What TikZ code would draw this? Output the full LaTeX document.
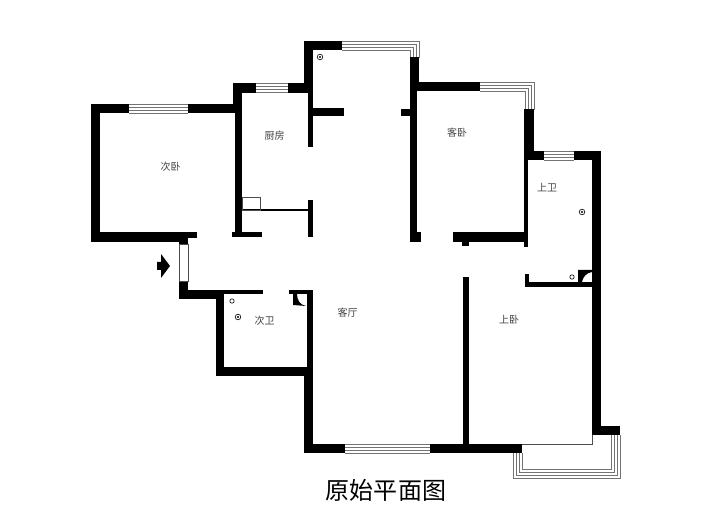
\documentclass[tikz,border=0pt]{standalone}
\usepackage{fontspec}
\newfontfamily\cjk{Noto Sans CJK SC}

\tikzset{
	wall/.style={fill=black},
	glass/.style={draw=black!55, line width=0.7pt},
	thinline/.style={draw=black!70, line width=0.7pt},
	fixture/.style={draw=black, line width=0.6pt, fill=white},
	roomlabel/.style={font=\cjk\fontsize{10}{10}\selectfont, text=black!75, inner sep=0pt},
}

\begin{document}
\begin{tikzpicture}[x=1pt, y=-1pt]
	\useasboundingbox (0,0) rectangle (716,521);

	% Straight windows
	\foreach \xa/\xb/\ya in {129/188/104, 256/288/83, 544/574/151, 345/430/444} {
		\foreach \d in {0,3,6,9} {
			\draw[glass] (\xa,\ya+\d) -- (\xb,\ya+\d);
		}
	}

	% Corner windows
	\foreach \d in {0,3,6,9} {
		\draw[glass] (342,41+\d) -- (419-\d,41+\d) -- (419-\d,58);
		\draw[glass] (480,82+\d) -- (534-\d,82+\d) -- (534-\d,110);
		\draw[glass] (513+\d,453) -- (513+\d,478-\d) -- (620-\d,478-\d) -- (620-\d,435);
	}

	% Walls
	\foreach \xa/\ya/\xb/\yb in {
		91/104/129/113, 188/104/242/113, 91/104/100/242, 91/232/197/238, 91/238/188/242,
		179/238/188/244, 179/281/188/299, 179/290/224/299, 216/290/263/294, 216/290/224/376,
		216/367/313/376, 304/367/313/453, 307/290/313/367, 289/290/313/294, 304/444/345/453,
		430/444/522/453, 463/277/469/444, 592/151/601/435, 592/426/620/435,
		304/41/342/50, 304/41/313/85, 308/85/313/147, 313/108/344/116,
		233/83/256/93, 288/83/313/93, 233/83/242/113, 235/93/242/237, 232/232/262/237,
		308/200/313/237, 410/57/419/82, 410/82/417/242, 410/232/421/242, 401/109/410/116,
		410/82/480/91, 524/109/534/151, 524/151/544/160, 574/151/601/160, 524/160/528/247,
		453/232/528/242, 462/242/469/246, 525/274/529/287, 525/282/592/287} {
		\fill[wall] (\xa,\ya) rectangle (\xb,\yb);
	}

	% Kitchen counter and thin edges
	\draw[thinline, draw=black, line width=1.2pt] (242,210) -- (308,210);
	\draw[thinline] (242,197) rectangle (260,210);
	\draw[thinline] (522,444) -- (592,444) -- (592,435);

	% Entrance door
	\draw[thinline] (179,244) rectangle (188,281);

	% Door swings in the two bathrooms
	\fill[wall] (293,294) -- (293,305) -- (306,306) .. controls (300,305) and (297,300) .. (297,294) -- cycle;
	\fill[wall] (578,270) -- (592,270) -- (592,272) .. controls (586,273) and (583,277) .. (582,282) -- (578,282) -- cycle;

	% Floor drains
	\foreach \px/\py in {232/301, 572/277} {
		\draw[fixture] (\px,\py) circle (2.2pt);
	}
	\foreach \px/\py in {238/317, 582/212, 320/57} {
		\draw[fixture] (\px,\py) circle (2.8pt);
		\fill (\px,\py) circle (1.2pt);
	}

	% Entrance arrow
	\fill[wall] (157,262) -- (161,262) -- (161,254) -- (170,266) -- (161,278) -- (161,270) -- (157,270) -- cycle;

	% Room names
	\node[roomlabel] (bedroomA) at (170.5,167) {次卧};
	\node[roomlabel] (kitchen) at (274.5,136) {厨房};
	\node[roomlabel] (bedroomB) at (457,133) {客卧};
	\node[roomlabel] (bathA) at (547,188) {上卫};
	\node[roomlabel] (living) at (347.5,313) {客厅};
	\node[roomlabel] (bathB) at (264.5,321) {次卫};
	\node[roomlabel] (bedroomC) at (509,320) {上卧};

	% Title
	\node[inner sep=0pt, text=black, font=\cjk\fontsize{24}{24}\selectfont, text width=122pt, align=justify] (title) at (386,490) {原\hfill 始\hfill 平\hfill 面\hfill 图};
\end{tikzpicture}
\end{document}
